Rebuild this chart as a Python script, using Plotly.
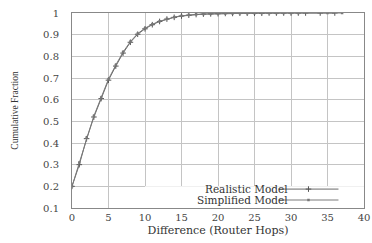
import plotly.graph_objects as go

hops_realistic = list(range(0, 33)) + [34, 36]
cdf_realistic = [0.20, 0.30, 0.42, 0.52, 0.605, 0.69, 0.755, 0.815, 0.865, 0.902,
                 0.927, 0.946, 0.961, 0.972, 0.980, 0.986, 0.990, 0.993, 0.995, 0.996,
                 0.997, 0.998, 0.998, 0.999, 0.999, 0.999, 0.999, 1.0, 1.0, 1.0,
                 1.0, 1.0, 1.0, 1.0, 1.0]
hops_simplified = list(range(0, 32)) + [35, 37]
cdf_simplified = [0.20, 0.31, 0.425, 0.525, 0.61, 0.695, 0.76, 0.82, 0.868, 0.905,
                  0.93, 0.948, 0.962, 0.973, 0.981, 0.987, 0.991, 0.994, 0.995, 0.996,
                  0.997, 0.998, 0.998, 0.999, 0.999, 0.999, 1.0, 1.0, 1.0, 1.0,
                  1.0, 1.0, 1.0, 1.0]
series_names = ["Realistic Model", "Simplified Model"]
x_ticks = [0, 5, 10, 15, 20, 25, 30, 35, 40]
y_ticks = [0.1, 0.2, 0.3, 0.4, 0.5, 0.6, 0.7, 0.8, 0.9, 1]
y_tick_text = ["0.1", "0.2", "0.3", "0.4", "0.5", "0.6", "0.7", "0.8", "0.9", "1"]

SERIF = "DejaVu Serif"
fig = go.Figure()
fig.add_trace(go.Scatter(x=hops_realistic, y=cdf_realistic, mode="lines+markers", name="",
                         legend="legend",
                         line=dict(color="#6a6a6a", width=1),
                         marker=dict(symbol="cross-thin", size=4, line=dict(color="#555", width=1))))
fig.add_trace(go.Scatter(x=hops_simplified, y=cdf_simplified, mode="lines+markers", name="",
                         legend="legend2",
                         line=dict(color="#7a7a7a", width=1),
                         marker=dict(symbol="square", size=2.5, color="#777")))

# key box hides grid lines behind it
fig.add_shape(type="rect", xref="x", yref="y", x0=10, x1=40, y0=0.1, y1=0.2,
              fillcolor="white", line=dict(width=0), layer="between")

for i, nm in enumerate(series_names):
    fig.add_annotation(x=29.9, y=[0.1875, 0.137][i], xref="x", yref="y", text=nm,
                       showarrow=False, xanchor="right", yanchor="middle",
                       font=dict(family=SERIF, size=10.5, color="#333"))

leg_common = dict(xref="paper", yref="paper", xanchor="left", yanchor="middle",
                  bgcolor="rgba(0,0,0,0)", font=dict(size=8), itemwidth=60,
                  borderwidth=0, tracegroupgap=0)
fig.update_layout(
    width=372, height=243,
    margin=dict(l=72, r=8, t=13, b=35),
    paper_bgcolor="white", plot_bgcolor="white",
    showlegend=True,
    legend=dict(x=0.69, y=0.097, **leg_common),
    legend2=dict(x=0.69, y=0.041, **leg_common),
    xaxis=dict(range=[0, 40], tickvals=x_ticks, showgrid=True, gridcolor="#c4c4c4", gridwidth=1,
               zeroline=False, showline=True, linecolor="#888", linewidth=1, mirror=True,
               ticks="", ticklabelstandoff=0, automargin=False,
               tickfont=dict(family=SERIF, size=10, color="#444"),
               title=dict(text="Difference (Router Hops)", standoff=4,
                          font=dict(family=SERIF, size=11, color="#333"))),
    yaxis=dict(range=[0.1, 1.0], tickvals=y_ticks, ticktext=y_tick_text, showgrid=True,
               gridcolor="#c4c4c4", gridwidth=1, zeroline=False, showline=True,
               linecolor="#888", linewidth=1, mirror=True, ticks="", ticklabelstandoff=10,
               automargin=False,
               tickfont=dict(family=SERIF, size=10, color="#444"),
               title=dict(text="Cumulative Fraction", standoff=22,
                          font=dict(family="Liberation Serif", size=9.5, color="#333"))),
)
fig.write_html("out.html", config={"displayModeBar": False},
               post_script="document.body.style.margin='0px';")
